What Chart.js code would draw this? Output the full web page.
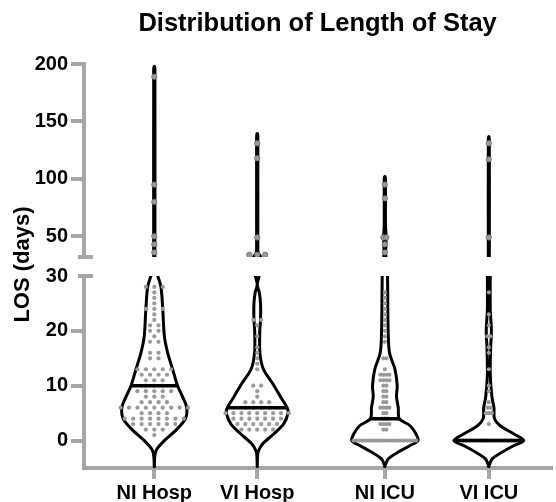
<!DOCTYPE html>
<html>
<head>
<meta charset="utf-8">
<script src="https://cdn.jsdelivr.net/npm/chart.js@4.4.1/dist/chart.umd.min.js"></script>
<style>
  body { margin: 0; background: #fff; }
</style>
</head>
<body>
<canvas id="losChart" width="556" height="502"></canvas>
<script>
// groups and where they sit on the x axis
const groups = ['NI Hosp', 'VI Hosp', 'NI ICU', 'VI ICU'];
const groupX = [1, 2, 3.24, 4.25];
const medians = [10, 6, 4, 0];

// broken y axis: lower and upper segment
const bottomRange = [-5, 30];
const topRange = [32, 200];
const bottomTicks = [0, 10, 20, 30];
const topTicks = [50, 100, 150, 200];

// length of stay of each patient (days)
const niHospLOS = [1, 2, 2, 2, 3, 3, 3, 3, 3, 3, 4, 4, 4, 4, 4, 4, 4, 4, 5, 5, 5, 5,
  6, 6, 6, 6, 6, 6, 6, 6, 6, 7, 7, 7, 7, 8, 8, 8, 9, 9, 9, 9, 9, 10, 10, 10,
  11, 11, 11, 12, 12, 12, 12, 13, 13, 13, 13, 13, 15, 15, 16, 16, 18, 18, 19,
  20, 20, 21, 21, 22, 23, 24, 24, 24, 25, 26, 27, 28, 28, 28,
  36, 43, 50, 80, 95, 189];
const viHospLOS = [2, 2, 2, 2, 2, 3, 3, 3, 3, 3, 3, 4, 4, 4, 4, 4, 4, 4,
  5, 5, 5, 5, 5, 5, 5, 5, 5, 6, 6, 6, 6, 7, 7, 7, 7, 8, 9, 10, 10,
  13, 14, 15, 16, 17, 19, 21, 22, 22, 34, 34, 34, 49, 118, 131];
const niIcuLOS = [0, 0, 0, 0, 0, 0, 0, 0, 0, 0, 0, 0, 0, 0, 0, 0, 0, 0, 0, 0, 0, 0,
  2, 2, 3, 3, 3, 3, 4, 4, 4, 5, 5, 6, 6, 6, 6, 7, 7, 8, 8, 9, 9, 10, 10,
  11, 11, 11, 11, 12, 12, 12, 12, 13, 15, 15, 18, 19, 20, 21, 22, 23, 24, 25, 26, 27,
  36, 43, 49, 49, 83, 95];
const viIcuLOS = [0, 0, 0, 0, 0, 0, 0, 0, 0, 0, 0, 0, 0, 0, 0, 0, 0, 0, 0, 0,
  3, 5, 5, 5, 6, 6, 7, 9, 10, 13, 16, 17, 19, 19, 21, 23, 27, 49, 117, 131];

// violin outlines: LOS level and kernel density (half width, x units)
const niHospLevels = [-5, -3, -1.7, 0, 2, 4, 6, 8, 10, 13, 16, 19, 24, 28, 30, 32, 195, 198];
const niHospDensity = [0, 0.004, 0.02, 0.098, 0.216, 0.303, 0.315, 0.274, 0.226, 0.178, 0.13, 0.098, 0.082, 0.065, 0.034, 0.006, 0.006, 0];
const viHospLevels = [-5, -3, -2, -0.6, 1.2, 3, 5, 6, 8, 10.4, 13, 16, 20, 22, 25, 27, 28.4, 30, 32, 33.5, 35.5, 38, 137, 139.5];
const viHospDensity = [0, 0.003, 0.01, 0.053, 0.16, 0.255, 0.3, 0.29, 0.226, 0.15, 0.06, 0.026, 0.025, 0.032, 0.032, 0.02, 0, 0.018, 0.035, 0.025, 0.01, 0.006, 0.006, 0];
const niIcuLevels = [-5, -4.5, -3.3, -2.1, -0.9, 0, 1.2, 2.7, 4, 6, 8, 10, 13, 16, 20, 26, 30, 32, 37, 49, 60, 100, 102];
const niIcuDensity = [0, 0.003, 0.035, 0.13, 0.245, 0.322, 0.303, 0.245, 0.14, 0.13, 0.113, 0.12, 0.098, 0.045, 0.032, 0.028, 0.026, 0.01, 0.008, 0.012, 0.006, 0.006, 0];
const viIcuLevels = [-5, -4.5, -3.3, -2.1, -0.9, 0, 1.2, 2.7, 4, 6, 8, 12, 17, 20, 24, 30, 32, 134, 137];
const viIcuDensity = [0, 0.003, 0.035, 0.13, 0.245, 0.34, 0.245, 0.11, 0.055, 0.05, 0.03, 0.014, 0.018, 0.025, 0.014, 0.014, 0.005, 0.005, 0];

const losByGroup = [niHospLOS, viHospLOS, niIcuLOS, viIcuLOS];
const levelsByGroup = [niHospLevels, viHospLevels, niIcuLevels, viIcuLevels];
const densityByGroup = [niHospDensity, viHospDensity, niIcuDensity, viIcuDensity];

const fontFamily = "'Liberation Sans', Arial, Helvetica, sans-serif";
const axisGray = '#a6a6a6';
const dotGray = '#999999';
// horizontal gap between tied dots, x units
const dotStep = [0.082, 0.077, 0.029, 0.029];

// spread tied values side by side, centred on the group
function swarm(values, gx, step) {
  const counts = {};
  values.forEach(v => { counts[v] = (counts[v] || 0) + 1; });
  const seen = {};
  return values.map(v => {
    seen[v] = (seen[v] === undefined) ? 0 : seen[v] + 1;
    return { x: gx + (seen[v] - (counts[v] - 1) / 2) * step, y: v };
  });
}

// closed violin path: up one side to the tip, back down the other
function violinPath(levels, density, idx, gx) {
  const right = idx.map(i => ({ x: gx + density[i], y: levels[i] }));
  const left = idx.slice(0, -1).reverse().map(i => ({ x: gx - density[i], y: levels[i] }));
  return right.concat(left);
}

const datasets = [];
groups.forEach((g, k) => {
  const gx = groupX[k];
  const lv = levelsByGroup[k];
  const dn = densityByGroup[k];
  const all = lv.map((v, i) => i);
  const lowIdx = all.filter(i => lv[i] <= bottomRange[1]).reverse();
  const highIdx = all.filter(i => lv[i] >= topRange[0]);

  [[lowIdx, 'yBot'], [highIdx, 'yTop']].forEach(([idx, axis]) => {
    datasets.push({
      label: g,
      data: violinPath(lv, dn, idx, gx),
      yAxisID: axis,
      showLine: true,
      borderColor: '#000',
      borderWidth: 3,
      borderJoinStyle: 'round',
      borderCapStyle: 'round',
      tension: 0.3,
      pointRadius: 0,
      fill: false,
      order: 2
    });
  });

  const mi = lv.indexOf(medians[k]);
  datasets.push({
    label: g + ' median',
    data: [{ x: gx - dn[mi], y: medians[k] }, { x: gx + dn[mi], y: medians[k] }],
    yAxisID: 'yBot',
    showLine: true,
    borderColor: '#000',
    borderWidth: 3.5,
    pointRadius: 0,
    order: 0
  });

  const pts = swarm(losByGroup[k], gx, dotStep[k]);
  datasets.push({
    label: g + ' patients',
    data: pts.filter(p => p.y <= bottomRange[1]),
    yAxisID: 'yBot',
    pointRadius: 2.1,
    pointBackgroundColor: dotGray,
    pointBorderWidth: 0,
    order: 1
  });
  datasets.push({
    label: g + ' patients (long stay)',
    data: pts.filter(p => p.y > bottomRange[1]),
    yAxisID: 'yTop',
    pointRadius: 2.7,
    pointBackgroundColor: dotGray,
    pointBorderColor: '#707070',
    pointBorderWidth: 0.8,
    order: 1
  });
});

// break marks on the y axis and the shared y title
const axisBreak = {
  id: 'axisBreak',
  afterDraw(chart) {
    const { ctx, chartArea, scales } = chart;
    const x0 = chartArea.left;
    ctx.save();
    ctx.strokeStyle = axisGray;
    ctx.lineWidth = 4;
    [scales.yTop.bottom, scales.yBot.top].forEach(y => {
      ctx.beginPath();
      ctx.moveTo(x0 - 6, y);
      ctx.lineTo(x0 + 9, y);
      ctx.stroke();
    });
    ctx.translate(23, (scales.yTop.bottom + scales.yBot.top) / 2 - 2);
    ctx.rotate(-Math.PI / 2);
    ctx.font = 'bold 22px ' + fontFamily;
    ctx.fillStyle = '#000';
    ctx.textAlign = 'center';
    ctx.textBaseline = 'middle';
    ctx.fillText('LOS (days)', 0, 0);
    ctx.restore();
  }
};

const tickFont = { family: fontFamily, size: 20, weight: 'bold' };

function yAxis(range, ticks, weight, stackWeight, hideLastTick) {
  return {
    type: 'linear',
    position: 'left',
    stack: 'los',
    stackWeight: stackWeight,
    weight: weight,
    min: range[0],
    max: range[1],
    afterBuildTicks: s => { s.ticks = ticks.map(v => ({ value: v })); },
    afterFit: s => { s.width = 84; },
    ticks: { font: tickFont, color: '#000', padding: 3 },
    grid: {
      drawOnChartArea: false,
      drawTicks: true,
      tickLength: 13,
      lineWidth: 4,
      color: axisGray,
      tickColor: c => (hideLastTick && c.index === ticks.length - 1) ? 'rgba(0,0,0,0)' : axisGray
    },
    border: { color: axisGray, width: 4 }
  };
}

new Chart(document.getElementById('losChart'), {
  type: 'scatter',
  data: { datasets: datasets },
  options: {
    responsive: false,
    animation: false,
    layout: { padding: 0 },
    plugins: {
      legend: { display: false },
      tooltip: { enabled: false },
      title: {
        display: true,
        text: 'Distribution of Length of Stay',
        fullSize: false,
        color: '#000',
        font: { family: fontFamily, size: 25.5, weight: 'bold' },
        padding: { top: 9, bottom: 24.4 }
      }
    },
    scales: {
      x: {
        type: 'linear',
        min: 0.317,
        max: 4.856,
        afterBuildTicks: s => { s.ticks = groupX.map(v => ({ value: v })); },
        afterFit: s => { s.height = 34; },
        ticks: {
          font: tickFont,
          color: '#000',
          padding: 2,
          autoSkip: false,
          maxRotation: 0,
          callback: (v, i) => groups[i]
        },
        grid: {
          drawOnChartArea: false,
          drawTicks: true,
          tickLength: 11,
          lineWidth: 4,
          color: axisGray
        },
        border: { color: axisGray, width: 4 }
      },
      yTop: yAxis(topRange, topTicks, 3, 193, false),
      yGap: {
        type: 'linear',
        position: 'left',
        stack: 'los',
        stackWeight: 19,
        weight: 2,
        min: 0,
        max: 1,
        afterFit: s => { s.width = 84; },
        ticks: { display: false },
        grid: { display: false },
        border: { display: false }
      },
      yBot: yAxis(bottomRange, bottomTicks, 1, 192, true)
    }
  },
  plugins: [axisBreak]
});
</script>
</body>
</html>
